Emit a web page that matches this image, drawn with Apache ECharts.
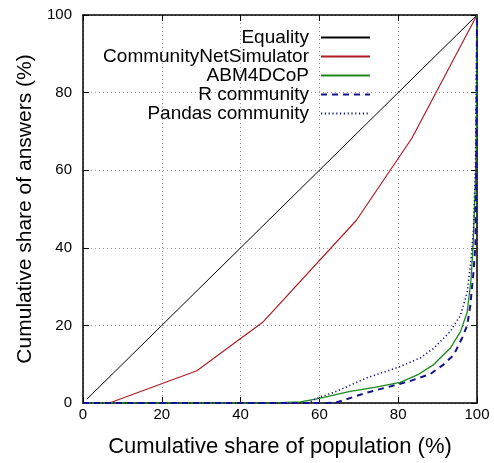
<!DOCTYPE html>
<html>
<head>
<meta charset="utf-8">
<script src="https://cdn.jsdelivr.net/npm/echarts@6/dist/echarts.min.js"></script>
<style>
html,body{margin:0;padding:0;background:#fff;}
#chart{width:494px;height:463px;}
</style>
</head>
<body>
<div id="chart"></div>
<script>
var seriesNames = ['Equality', 'CommunityNetSimulator', 'ABM4DCoP', 'R community', 'Pandas community'];
var xTicks = [0, 20, 40, 60, 80, 100];
var yTicks = [0, 20, 40, 60, 80, 100];

var equality = [[1, 1], [100, 100]];
var communityNetSimulator = [[6.7, 0], [28.9, 8.3], [45.6, 20.8], [69.4, 47.1], [83.5, 68.3], [100, 100]];
var abm4dcop = [[0, 0], [45, 0], [50, 0.1], [55.2, 0.3], [60, 1.2], [67.8, 3], [74, 4], [80.5, 5.3], [85, 7.3], [89, 9.9], [93.2, 14.1], [95.8, 18.4], [97.5, 23.4], [98.5, 31.9], [99, 40.4], [99.3, 48.8], [99.6, 57.3], [99.8, 65.7], [100, 100]];
var rCommunity = [[0, 0], [62, 0], [64.5, 0.2], [72.1, 2.7], [80, 4.8], [83.1, 5.7], [88.2, 7.5], [91.5, 9.9], [94.1, 12.4], [96.2, 16.7], [97.5, 20], [98.3, 25.1], [99.1, 33.6], [99.6, 40.4], [99.8, 55], [100, 100]];
var pandasCommunity = [[0, 0], [57, 0], [59.8, 1.4], [63.6, 2.7], [72.1, 6.5], [80, 9.2], [85.6, 11.6], [89, 14.1], [93.2, 18.4], [95.8, 22.6], [97.5, 28.5], [98.5, 37], [99.1, 44.6], [99.6, 60], [100, 100]];

var colors = ['#000000', '#b01e24', '#1c8a1c', '#12128c', '#12128c'];
var font = 'Liberation Sans, Arial, Helvetica, sans-serif';

var chart = echarts.init(document.getElementById('chart'), null, {renderer: 'canvas'});

function axisCommon(showLabels) {
  return {
    type: 'value', min: xTicks[0], max: xTicks[xTicks.length - 1], interval: 20,
    axisLine: {show: true, onZero: false, lineStyle: {color: '#000', width: 1.5}},
    axisTick: {show: true, inside: true, length: 6, lineStyle: {color: '#000', width: 1}},
    axisLabel: {show: showLabels, color: '#000', fontSize: 15, fontFamily: font},
    splitLine: {show: false}
  };
}

var xBottom = axisCommon(true);
xBottom.position = 'bottom';
xBottom.name = 'Cumulative share of population (%)';
xBottom.nameLocation = 'middle';
xBottom.nameGap = 33;
xBottom.nameTextStyle = {color: '#000', fontSize: 22, fontFamily: font};
xBottom.axisLabel.margin = 4;
xBottom.splitLine = {show: true, lineStyle: {color: '#999', type: [1, 3], width: 1}};

var xTop = axisCommon(false);
xTop.position = 'top';

var yLeft = axisCommon(true);
yLeft.min = yTicks[0]; yLeft.max = yTicks[yTicks.length - 1];
yLeft.position = 'left';
yLeft.name = 'Cumulative share of answers (%)';
yLeft.nameLocation = 'middle';
yLeft.nameGap = 45;
yLeft.nameTextStyle = {color: '#000', fontSize: 21, fontFamily: font};
yLeft.axisLabel.margin = 11;
yLeft.splitLine = {show: true, lineStyle: {color: '#999', type: [1, 3], width: 1}};

var yRight = axisCommon(false);
yRight.min = yTicks[0]; yRight.max = yTicks[yTicks.length - 1];
yRight.position = 'right';

var datasets = [equality, communityNetSimulator, abm4dcop, rCommunity, pandasCommunity];
var styles = [
  {width: 1, type: 'solid'},
  {width: 1.2, type: 'solid'},
  {width: 1.3, type: 'solid'},
  {width: 2, type: [6, 5]},
  {width: 1.6, type: [1.2, 2.6]}
];

var series = seriesNames.map(function (n, i) {
  return {
    name: n, type: 'line', data: datasets[i], symbol: 'none', showSymbol: false,
    xAxisIndex: 0, yAxisIndex: 0, animation: false,
    lineStyle: {color: colors[i], width: styles[i].width, type: styles[i].type},
    itemStyle: {color: colors[i]}, z: 2 + i
  };
});

var rowTops = [23, 42, 61, 80, 99];
var legends = seriesNames.map(function (n, i) {
  return {
    data: [n], right: 118, top: rowTops[i], orient: 'vertical', align: 'right',
    itemWidth: 49, itemHeight: 14, selectedMode: false,
    itemStyle: {opacity: 0},
    textStyle: {color: '#000', fontSize: 19, fontFamily: font, padding: [0, 7, 0, 0]}
  };
});

chart.setOption({
  animation: false,
  backgroundColor: '#fff',
  color: colors,
  grid: {left: 83, right: 17, top: 15, bottom: 54, containLabel: false},
  xAxis: [xBottom, xTop],
  yAxis: [yLeft, yRight],
  legend: legends,
  series: series
});
</script>
</body>
</html>
